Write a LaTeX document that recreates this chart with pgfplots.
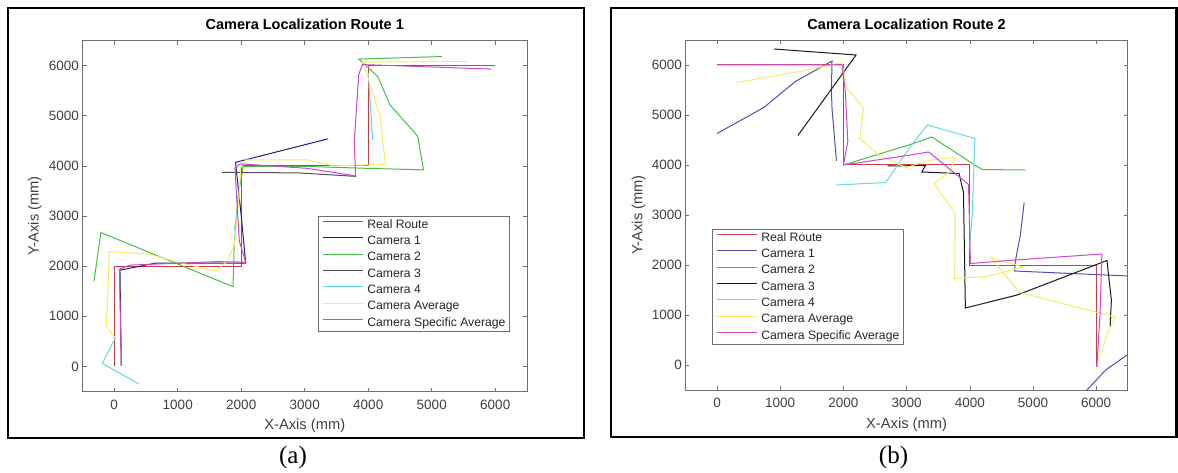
\documentclass[border=0pt]{standalone}
\usepackage{fontspec}
\setmainfont{Liberation Sans}
\newfontfamily\capfont{Liberation Serif}
\usepackage{pgfplots}
\pgfplotsset{compat=1.18}

\definecolor{rroute}{RGB}{200,60,70}
\definecolor{camA}{RGB}{30,30,120}
\definecolor{camAb}{RGB}{80,80,170}
\definecolor{camB}{RGB}{70,190,70}
\definecolor{camC}{RGB}{80,80,80}
\definecolor{camCb}{RGB}{25,25,25}
\definecolor{camD}{RGB}{100,215,225}
\definecolor{camE}{RGB}{245,235,100}
\definecolor{camF}{RGB}{205,70,205}
\definecolor{axgray}{RGB}{110,110,110}
\definecolor{txtgray}{RGB}{64,64,64}

\pgfplotsset{
  routeaxis/.style={
    scale only axis, anchor=south west,
    xmin=-500,xmax=6500,ymin=-500,ymax=6500,
    xtick={0,1000,...,6000}, ytick={0,1000,...,6000},
    scaled ticks=false,
    /pgf/number format/1000 sep={},
    /pgf/number format/assume math mode=true,
    tick align=inside, major tick length=4pt,
    axis line style={axgray, line width=0.7pt},
    tick style={axgray, line width=0.6pt},
    ticklabel style={font=\fontsize{13.5}{16}\selectfont, text=txtgray},
    xticklabel style={yshift=-5pt},
    label style={font=\fontsize{14.7}{17}\selectfont, text=txtgray},
    title style={font=\fontsize{14.5}{17}\selectfont\bfseries, at={(0.5,1)}, anchor=center, inner sep=0pt},
    unbounded coords=jump,
    every axis plot/.append style={line width=1pt},
    legend cell align=left,
    legend image code/.code={\draw[##1, line width=1pt] (0pt,3.5pt) -- (40pt,3.5pt);},
    legend style={draw=axgray, line width=0.6pt, fill=white, font=\fontsize{12.2}{14}\selectfont, text=black!85, inner xsep=4pt, inner ysep=3pt, row sep=4.8pt, column sep=4pt, nodes={inner sep=0pt, text height=9pt, text depth=2.5pt}},
  }
}

\begin{document}
\begin{tikzpicture}
\path[use as bounding box] (0pt,0pt) rectangle (1178pt,472pt);
\draw[line width=2.2pt] (8pt,34pt) rectangle (584pt,464pt);
\draw[line width=2.2pt] (611pt,35pt) rectangle (1176.5pt,464pt);
\node[font=\capfont\fontsize{25}{28}\selectfont] at (293pt,14.5pt) {(a)};
\node[font=\capfont\fontsize{25}{28}\selectfont] at (893.5pt,14.5pt) {(b)};

% ---------------- Panel (a) ----------------
\begin{axis}[routeaxis, at={(82.5pt,80.5pt)}, width=444.5pt, height=351pt,
  title={Camera Localization Route 1}, title style={yshift=10.5pt},
  xlabel={X-Axis (mm)}, ylabel={Y-Axis (mm)},
  xlabel style={at={(axis description cs:0.5,-0.0983)}, anchor=center},
  ylabel style={at={(axis description cs:-0.107,0.5)}, anchor=center},
  legend style={at={(0.530,0.500)}, anchor=north west}]
\addplot[rroute] coordinates {(0,0) (0,2000) (2000,2000) (2000,4000) (4000,4000) (4000,6000) (6000,6000)};
\addplot[camA] coordinates {(110,20) (90,1920) (650,2060) (2070,2060) (2000,3000) (1910,4070) (3370,4540)};
\addplot[camB] coordinates {(-320,1700) (-210,2670) (1870,1590) (1890,2450) (1950,3400) (2030,3990) (3000,3990) (4000,3950) (4870,3920) (4780,4590) (4340,5220) (4150,5780) (3850,6130) (5160,6180)};
\addplot[camC] coordinates {(1700,3870) (2900,3860) (3810,3790)};
\addplot[camD] coordinates {(390,-350) (-190,60) (20,570) (nan,nan) (1890,2700) (1970,3400) (nan,nan) (4000,5850) (4070,4520)};
\addplot[camE] coordinates {(10,577) (-130,810) (-105,1240) (-80,2290) (550,2240) (1000,2080) (1600,1900) (1780,2100) (1890,2430) (1960,3300) (1990,3960) (2070,4120) (3040,4120) (3450,4000) (4270,4030) (4190,4960) (3990,5790) (3910,6070) (5550,6080)};
\addplot[camF] coordinates {(115,13) (79,1936) (240,2020) (1600,2090) (2070,2080) (1970,2500) (1900,3960) (1990,4040) (3040,3950) (3800,3800) (3780,4490) (3850,5820) (3910,6020) (5940,5930)};
\legend{Real Route, Camera 1, Camera 2, Camera 3, Camera 4, Camera Average, Camera Specific Average}
\end{axis}

% ---------------- Panel (b) ----------------
\begin{axis}[routeaxis, at={(685.4pt,82pt)}, width=442.4pt, height=350pt,
  title={Camera Localization Route 2}, title style={yshift=10pt},
  xlabel={X-Axis (mm)}, ylabel={Y-Axis (mm)},
  xlabel style={at={(axis description cs:0.5,-0.0986)}, anchor=center},
  ylabel style={at={(axis description cs:-0.106,0.5)}, anchor=center},
  legend style={at={(0.060,0.460)}, anchor=north west}]
\addplot[rroute] coordinates {(0,6000) (2000,6000) (2000,4000) (4000,4000) (4000,2000) (6000,2000) (6000,-30)};
\addplot[camAb] coordinates {(0,4630) (740,5150) (1240,5670) (1820,6080) (1810,5500) (1820,5130) (1890,4080) (nan,nan) (4860,3250) (4800,2600) (4720,2070) (4710,1880) (6600,1775) (nan,nan) (5780,-600) (6150,-100) (6600,300)};
\addplot[camB] coordinates {(2000,4000) (3060,4410) (3400,4560) (4090,3990) (4200,3910) (4880,3900)};
\addplot[camCb] coordinates {(900,6320) (2200,6200) (1280,4590) (nan,nan) (2700,3980) (3300,3990) (3240,3860) (3830,3830) (3900,3450) (3930,1140) (4750,1400) (6170,2090) (6240,1300) (6220,770)};
\addplot[camD] coordinates {(1890,3600) (2670,3650) (3060,4370) (3330,4800) (4080,4530) (4040,3030) (3990,2300)};
\addplot[camE] coordinates {(320,5650) (1350,5880) (1980,6050) (2050,5550) (2320,5130) (2260,4530) (2560,4200) (2990,3950) (3380,4100) (3770,4150) (3670,3850) (3430,3630) (3770,3030) (3760,1730) (4270,1770) (4840,1960) (4330,2150) (4790,1450) (6300,960) (6170,600) (6030,80)};
\addplot[camF] coordinates {(0,6000) (1980,6000) (2030,5470) (2070,4470) (2000,4000) (3060,4200) (3350,4260) (3980,3610) (4010,2030) (4720,2100) (6090,2220) (6060,1000) (6010,-40)};
\legend{Real Route, Camera 1, Camera 2, Camera 3, Camera 4, Camera Average, Camera Specific Average}
\end{axis}
\end{tikzpicture}
\end{document}
